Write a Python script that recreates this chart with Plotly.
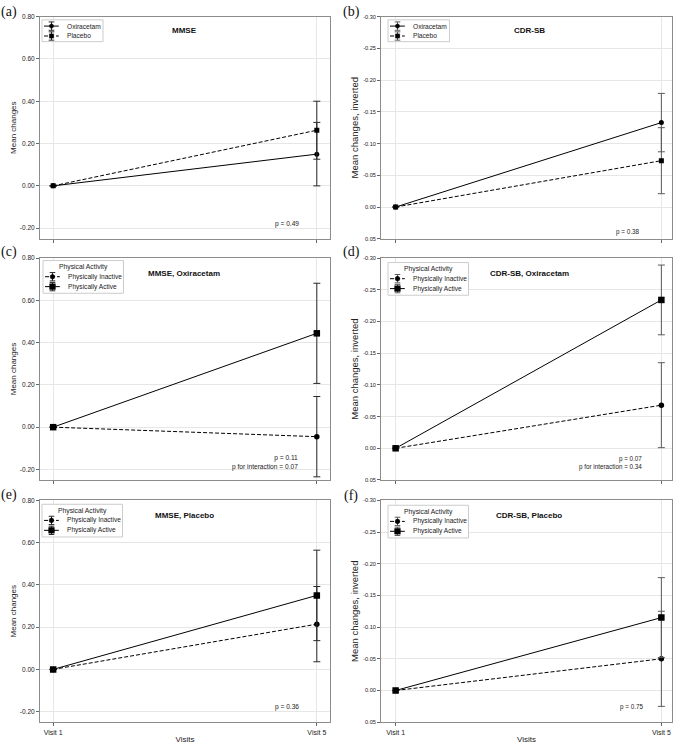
import plotly.graph_objects as go

W, H = 678, 747

visits = ["Visit 1", "Visit 5"]

# (a) MMSE
mmse_oxiracetam = [0.0, 0.150]
mmse_oxiracetam_err = [0.0, 0.150]
mmse_placebo = [0.0, 0.263]
mmse_placebo_err = [0.0, 0.137]
# (b) CDR-SB
cdr_oxiracetam = [0.0, -0.133]
cdr_oxiracetam_err = [0.0, 0.046]
cdr_placebo = [0.0, -0.073]
cdr_placebo_err = [0.0, 0.052]
# (c) MMSE, Oxiracetam
mmse_oxi_inactive = [0.0, -0.045]
mmse_oxi_inactive_err = [0.0, 0.190]
mmse_oxi_active = [0.0, 0.444]
mmse_oxi_active_err = [0.0, 0.237]
# (d) CDR-SB, Oxiracetam
cdr_oxi_inactive = [0.0, -0.068]
cdr_oxi_inactive_err = [0.0, 0.067]
cdr_oxi_active = [0.0, -0.234]
cdr_oxi_active_err = [0.0, 0.055]
# (e) MMSE, Placebo
mmse_pla_inactive = [0.0, 0.214]
mmse_pla_inactive_err = [0.0, 0.178]
mmse_pla_active = [0.0, 0.350]
mmse_pla_active_err = [0.0, 0.214]
# (f) CDR-SB, Placebo
cdr_pla_inactive = [0.0, -0.050]
cdr_pla_inactive_err = [0.0, 0.075]
cdr_pla_active = [0.0, -0.115]
cdr_pla_active_err = [0.0, 0.063]

mmse_tickvals = [0.8, 0.6, 0.4, 0.2, 0.0, -0.2]
mmse_ticktext = ["0.80", "0.60", "0.40", "0.20", "0.00", "-0.20"]
cdr_tickvals = [-0.30, -0.25, -0.20, -0.15, -0.10, -0.05, 0.0, 0.05]
cdr_ticktext = ["-0.30", "-0.25", "-0.20", "-0.15", "-0.10", "-0.05", "0.00", "0.05"]

SANS = "Liberation Sans, Arial, sans-serif"
SERIF = "Liberation Serif, Times New Roman, serif"
DASH = "4px,2px"


def px_x(p):
    return p / W


def px_y(p):
    return 1 - p / H


col_dom = [[40 / W, 330 / W], [381 / W, 672 / W]]
row_dom = [[px_y(237), px_y(12.7)], [px_y(480.5), px_y(256.5)], [px_y(725), px_y(501)]]

panels = [
    dict(label="(a)", title="MMSE", kind="mmse", legend_title=None, legw=61,
         series=[("Oxiracetam", mmse_oxiracetam, mmse_oxiracetam_err, "solid", "circle", 5),
                 ("Placebo", mmse_placebo, mmse_placebo_err, DASH, "square", 5)],
         ptext="p = 0.49", ppos=(301, 222), tpos=(184, 27), lpos=(9, 8), legpos=(42, 16)),
    dict(label="(b)", title="CDR-SB", kind="cdr", legend_title=None, legw=61.5,
         series=[("Oxiracetam", cdr_oxiracetam, cdr_oxiracetam_err, "solid", "circle", 5),
                 ("Placebo", cdr_placebo, cdr_placebo_err, DASH, "square", 5)],
         ptext="p = 0.38", ppos=(641, 230.5), tpos=(529, 27), lpos=(351, 8), legpos=(388, 16)),
    dict(label="(c)", title="MMSE, Oxiracetam", kind="mmse", legend_title="Physical Activity", legw=80.5,
         series=[("Physically Inactive", mmse_oxi_inactive, mmse_oxi_inactive_err, DASH, "circle", 5.5),
                 ("Physically Active", mmse_oxi_active, mmse_oxi_active_err, "solid", "square", 6.5)],
         ptext="p = 0.11<br>p for interaction = 0.07", ppos=(300, 463), tpos=(184, 272), lpos=(9, 250), legpos=(43, 259)),
    dict(label="(d)", title="CDR-SB, Oxiracetam", kind="cdr", legend_title="Physical Activity", legw=80.5,
         series=[("Physically Inactive", cdr_oxi_inactive, cdr_oxi_inactive_err, DASH, "circle", 5.5),
                 ("Physically Active", cdr_oxi_active, cdr_oxi_active_err, "solid", "square", 6.5)],
         ptext="p = 0.07<br>p for interaction = 0.34", ppos=(644, 463), tpos=(529, 272), lpos=(351, 250), legpos=(388, 261)),
    dict(label="(e)", title="MMSE, Placebo", kind="mmse", legend_title="Physical Activity", legw=80.5,
         series=[("Physically Inactive", mmse_pla_inactive, mmse_pla_inactive_err, DASH, "circle", 5.5),
                 ("Physically Active", mmse_pla_active, mmse_pla_active_err, "solid", "square", 6.5)],
         ptext="p = 0.36", ppos=(301, 710), tpos=(184, 516), lpos=(9, 496), legpos=(42, 505)),
    dict(label="(f)", title="CDR-SB, Placebo", kind="cdr", legend_title="Physical Activity", legw=80.5,
         series=[("Physically Inactive", cdr_pla_inactive, cdr_pla_inactive_err, DASH, "circle", 5.5),
                 ("Physically Active", cdr_pla_active, cdr_pla_active_err, "solid", "square", 6.5)],
         ptext="p = 0.75", ppos=(645, 710), tpos=(529, 516), lpos=(351, 497), legpos=(388, 506)),
]

fig = go.Figure()
shapes = []
annotations = []
layout = dict(
    width=W, height=H,
    margin=dict(l=0, r=0, t=0, b=0),
    paper_bgcolor="white", plot_bgcolor="white",
    font=dict(family=SANS, color="#222222", size=7),
    showlegend=False,
)


def pline(x0, y0, x1, y1, color="black", width=1, dash="solid"):
    shapes.append(dict(type="line", xref="paper", yref="paper",
                       x0=px_x(x0), y0=px_y(y0), x1=px_x(x1), y1=px_y(y1),
                       line=dict(color=color, width=width, dash=dash)))


def draw_legend(bx, by, width, title, series, err_color):
    off = 10 if title else 0
    height = 33 if title else 22
    shapes.append(dict(type="rect", xref="paper", yref="paper",
                       x0=px_x(bx), y0=px_y(by), x1=px_x(bx + width), y1=px_y(by + height),
                       line=dict(color="#cccccc", width=1), fillcolor="white"))
    if title:
        annotations.append(dict(text=title, x=px_x(bx + width / 2), y=px_y(by + 6.6),
                                xref="paper", yref="paper", xanchor="center", yanchor="middle",
                                showarrow=False, font=dict(size=6.8, color="#222222", family=SANS)))
    for k, (name, _vals, _errs, dash, symbol, msize) in enumerate(series):
        yc = by + 6.3 + off + 10 * k
        mx = bx + 9.5
        pline(bx + 2, yc, bx + 16.8, yc, dash=dash)
        pline(mx, yc - 4.2, mx, yc + 4.2, color=err_color)
        pline(mx - 2.8, yc - 4.2, mx + 2.8, yc - 4.2, color=err_color)
        pline(mx - 2.8, yc + 4.2, mx + 2.8, yc + 4.2, color=err_color)
        r = (msize - 0.8) / 2
        shapes.append(dict(type="circle" if symbol == "circle" else "rect",
                           xref="paper", yref="paper",
                           x0=px_x(mx - r), x1=px_x(mx + r), y0=px_y(yc - r), y1=px_y(yc + r),
                           line=dict(color="black", width=0.5), fillcolor="black"))
        annotations.append(dict(text=name, x=px_x(bx + 22.5), y=px_y(yc),
                                xref="paper", yref="paper", xanchor="left", yanchor="middle",
                                showarrow=False, font=dict(size=6.6, color="#222222", family=SANS)))


for i, p in enumerate(panels):
    n = i + 1
    r, c = i // 2, i % 2
    xa = "xaxis" if n == 1 else f"xaxis{n}"
    ya = "yaxis" if n == 1 else f"yaxis{n}"
    xr = "x" if n == 1 else f"x{n}"
    yr = "y" if n == 1 else f"y{n}"
    err_color = "#2a2a2a" if c == 0 else "#5a5a5a"

    for name, vals, errs, dash, symbol, msize in p["series"]:
        fig.add_trace(go.Scatter(
            x=visits, y=vals, name=name, mode="lines+markers",
            xaxis=xr, yaxis=yr, showlegend=False,
            line=dict(color="black", width=1, dash=dash),
            marker=dict(color="black", symbol=symbol, size=msize),
            error_y=dict(type="data", array=errs, visible=True,
                         color=err_color, thickness=1, width=3.5),
        ))

    bottom = (r == 2)
    layout[xa] = dict(
        domain=col_dom[c], anchor=yr,
        type="category", range=[-0.05, 1.05] if c == 0 else [-0.055, 1.04],
        showgrid=True, gridcolor="#e6e6e6", gridwidth=1,
        showline=True, linecolor="#8c8c8c", linewidth=1, mirror=True,
        ticks="outside", ticklen=3, tickcolor="#666666",
        showticklabels=bottom, tickfont=dict(size=7, color="#222222"),
        zeroline=False,
        title=dict(text="Visits", font=dict(size=8, color="#222222"), standoff=1) if bottom else None,
    )
    if p["kind"] == "mmse":
        yd = dict(range=[-0.25, 0.80], tickvals=mmse_tickvals, ticktext=mmse_ticktext)
        ytitle = dict(text="Mean changes", font=dict(size=8, color="#222222"), standoff=2)
        tsize = 6.5
    else:
        yd = dict(range=[0.05, -0.30], tickvals=cdr_tickvals, ticktext=cdr_ticktext)
        ytitle = dict(text="Mean changes, inverted", font=dict(size=9.5, color="#222222"), standoff=2)
        tsize = 5.6
    yd.update(
        domain=row_dom[r], anchor=xr, tickmode="array",
        showgrid=True, gridcolor="#e6e6e6", gridwidth=1,
        showline=True, linecolor="#8c8c8c", linewidth=1, mirror=True,
        ticks="outside", ticklen=3, tickcolor="#666666",
        tickfont=dict(size=tsize, color="#222222"),
        zeroline=False, title=ytitle,
    )
    layout[ya] = yd

    draw_legend(p["legpos"][0], p["legpos"][1], p["legw"], p["legend_title"], p["series"], err_color)

    annotations.append(dict(
        text=f"<b>{p['title']}</b>", x=px_x(p["tpos"][0]), y=px_y(p["tpos"][1]),
        xref="paper", yref="paper", xanchor="center", yanchor="middle",
        showarrow=False, font=dict(size=8, color="#111111", family=SANS)))
    annotations.append(dict(
        text=p["ptext"], x=px_x(p["ppos"][0]), y=px_y(p["ppos"][1]),
        xref="paper", yref="paper", xanchor="right", yanchor="middle", align="right",
        showarrow=False, font=dict(size=6.6 if c == 0 else 6.3, color="#222222", family=SANS)))
    annotations.append(dict(
        text=p["label"], x=px_x(p["lpos"][0]), y=px_y(p["lpos"][1]),
        xref="paper", yref="paper", xanchor="center", yanchor="middle",
        showarrow=False, font=dict(size=14, color="#111111", family=SERIF)))

layout["shapes"] = shapes
layout["annotations"] = annotations
fig.update_layout(**layout)
fig.write_html("out.html")
